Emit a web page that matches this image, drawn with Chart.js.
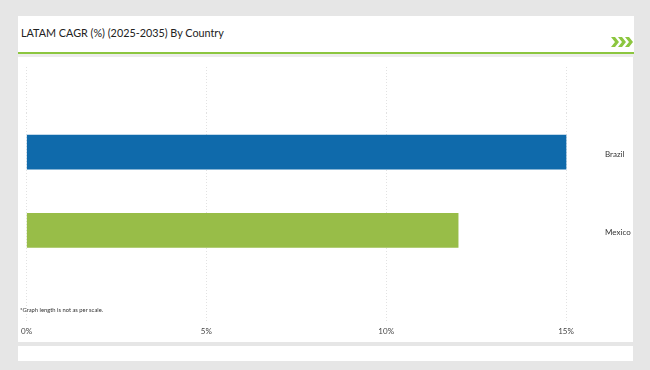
<!DOCTYPE html>
<html><head><meta charset="utf-8">
<script src="https://cdn.jsdelivr.net/npm/chart.js@4"></script>
<style>
html,body{margin:0;padding:0;width:650px;height:370px;background:#e6e6e6;overflow:hidden;font-family:Lato,sans-serif;}
#top{position:absolute;left:18px;top:16px;width:616px;height:36px;background:#fff;}
#gl{position:absolute;left:18px;top:52px;width:616px;height:2px;background:#8cc63f;}
#gap{position:absolute;left:18px;top:54px;width:616px;height:3px;background:#ececec;}
#title{position:absolute;left:21px;top:26px;font-size:10.8px;color:#222;white-space:nowrap;}
#main{position:absolute;left:18px;top:57px;width:615px;height:285px;background:#fff;}
#bot{position:absolute;left:18px;top:346px;width:615px;height:15px;background:#fff;}
#wrap{position:absolute;left:18px;top:57px;width:616px;height:285px;}
#note{position:absolute;left:20px;top:306px;font-size:5.8px;color:#333;white-space:nowrap;}
#chev{position:absolute;left:611px;top:37px;}
</style></head>
<body>
<div id="top"></div><div id="gl"></div><div id="gap"></div>
<div id="title">LATAM CAGR (%) (2025-2035) By Country</div>
<svg id="chev" width="23" height="10" viewBox="0 0 23 10">
<polygon fill="#8cc63f" points="0,0 4,0 8,5 4,10 0,10 4,5"/>
<polygon fill="#8cc63f" points="7,0 11,0 15,5 11,10 7,10 11,5"/>
<polygon fill="#8cc63f" points="14,0 18,0 22,5 18,10 14,10 18,5"/>
</svg>
<div id="main"></div><div id="bot"></div>
<div id="wrap"><canvas id="c" width="616" height="285"></canvas></div>
<div id="note">*Graph length is not as per scale.</div>
<script>
const categories = ['Brazil', 'Mexico'];
const cagrValues = [15, 12];
const barColors = ['#0f6aab', '#98bd48'];
const tickValues = [0, 5, 10, 15];
const axisMax = 16;

const setTicks = s => { s.ticks = tickValues.map(v => ({ value: v })); };
const gridColor = '#e2e2e2';

new Chart(document.getElementById('c'), {
  type: 'bar',
  data: {
    labels: categories,
    datasets: [{
      data: cagrValues,
      backgroundColor: barColors,
      borderWidth: 0,
      barThickness: 34,
      xAxisID: 'x',
      yAxisID: 'y'
    }]
  },
  options: {
    indexAxis: 'y',
    responsive: false,
    animation: false,
    devicePixelRatio: 1,
    layout: { padding: { left: 8, right: 0, top: 10, bottom: 1 } },
    plugins: { legend: { display: false }, tooltip: { enabled: false } },
    scales: {
      x: {
        type: 'linear', position: 'bottom', min: 0, max: axisMax,
        afterBuildTicks: setTicks,
        ticks: { callback: v => v + '%', font: { family: 'Lato', size: 8, lineHeight: 1.7 }, color: '#444', padding: 3, maxRotation: 0, autoSkip: false },
        grid: { color: gridColor, lineWidth: 1, drawTicks: true, tickLength: 52, tickColor: gridColor, tickWidth: 1, tickBorderDash: [1, 2] },
        border: { display: false, dash: [1, 2] }
      },
      xTop: {
        type: 'linear', position: 'top', min: 0, max: axisMax,
        afterBuildTicks: setTicks,
        ticks: { display: false },
        grid: { drawOnChartArea: false, drawTicks: true, tickLength: 46, tickColor: gridColor, tickWidth: 1, tickBorderDash: [1, 2] },
        border: { display: false }
      },
      y: {
        type: 'category', position: 'right',
        grid: { display: false, drawTicks: false },
        border: { display: false },
        ticks: { font: { family: 'Lato', size: 8 }, color: '#333', padding: 3, labelOffset: 2.5 },
        afterFit: s => { s.width = 32; }
      }
    }
  }
});
</script>
</body></html>
